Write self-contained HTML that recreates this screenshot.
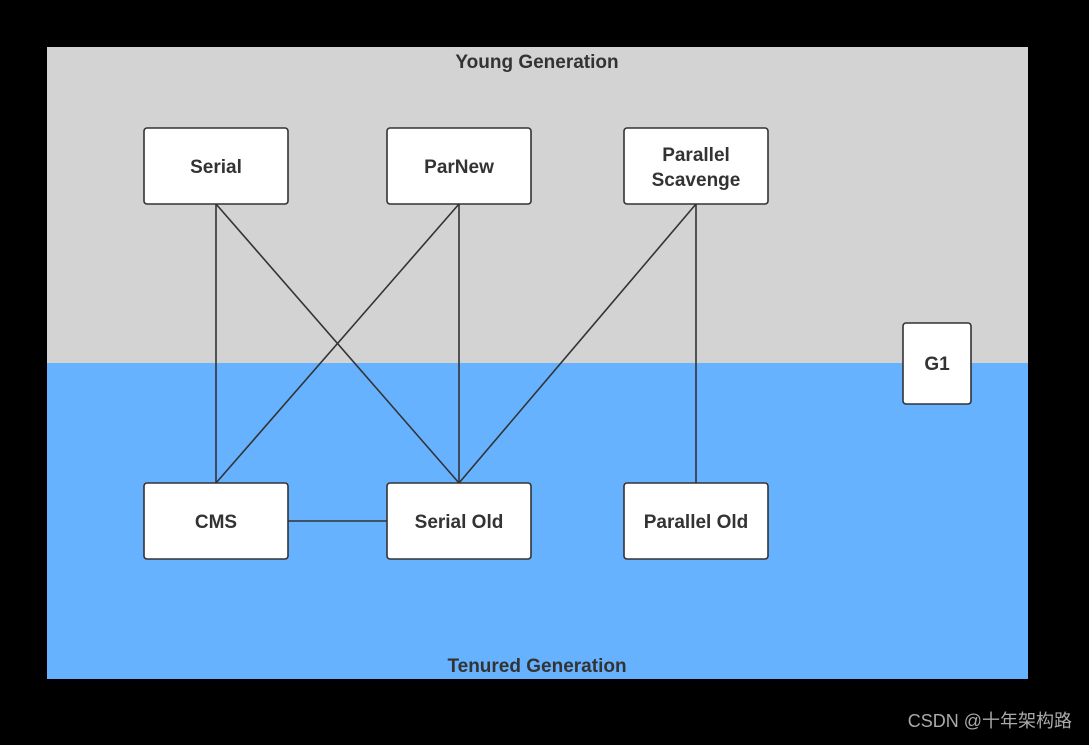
<!DOCTYPE html>
<html><head><meta charset="utf-8"><style>
body{margin:0;background:#000;width:1089px;height:740px;overflow:hidden}
svg text{font-family:"Liberation Sans","DejaVu Sans",sans-serif;font-weight:bold;fill:#333;font-size:19px}
</style></head><body>
<svg width="1089" height="740" xmlns="http://www.w3.org/2000/svg">
<rect x="0" y="0" width="1089" height="740" fill="#000"/>
<rect x="47" y="47" width="981" height="316" fill="#d3d3d3"/>
<rect x="47" y="363" width="981" height="316" fill="#66b2ff"/>
<text x="537" y="68" text-anchor="middle">Young Generation</text>
<text x="537" y="672" text-anchor="middle">Tenured Generation</text>
<g stroke="#333" stroke-width="1.6" fill="none">
<line x1="216" y1="204" x2="216" y2="483"/>
<line x1="216" y1="204" x2="459" y2="483"/>
<line x1="459" y1="204" x2="216" y2="483"/>
<line x1="459" y1="204" x2="459" y2="483"/>
<line x1="696" y1="204" x2="459" y2="483"/>
<line x1="696" y1="204" x2="696" y2="483"/>
<line x1="288" y1="521" x2="387" y2="521"/>
</g>
<g fill="#fff" stroke="#333" stroke-width="1.6">
<rect x="144" y="128" width="144" height="76" rx="3"/>
<rect x="387" y="128" width="144" height="76" rx="3"/>
<rect x="624" y="128" width="144" height="76" rx="3"/>
<rect x="903" y="323" width="68" height="81" rx="3"/>
<rect x="144" y="483" width="144" height="76" rx="3"/>
<rect x="387" y="483" width="144" height="76" rx="3"/>
<rect x="624" y="483" width="144" height="76" rx="3"/>
</g>
<g text-anchor="middle">
<text x="216" y="173">Serial</text>
<text x="459" y="173">ParNew</text>
<text x="696" y="161">Parallel</text>
<text x="696" y="186">Scavenge</text>
<text x="937" y="370">G1</text>
<text x="216" y="528">CMS</text>
<text x="459" y="528">Serial Old</text>
<text x="696" y="528">Parallel Old</text>
</g>
<text x="1072" y="727" text-anchor="end" style="font-weight:normal;fill:#aaa;font-size:18px;font-family:'Liberation Sans','Noto Sans CJK SC',sans-serif">CSDN @十年架构路</text>
</svg>
</body></html>
